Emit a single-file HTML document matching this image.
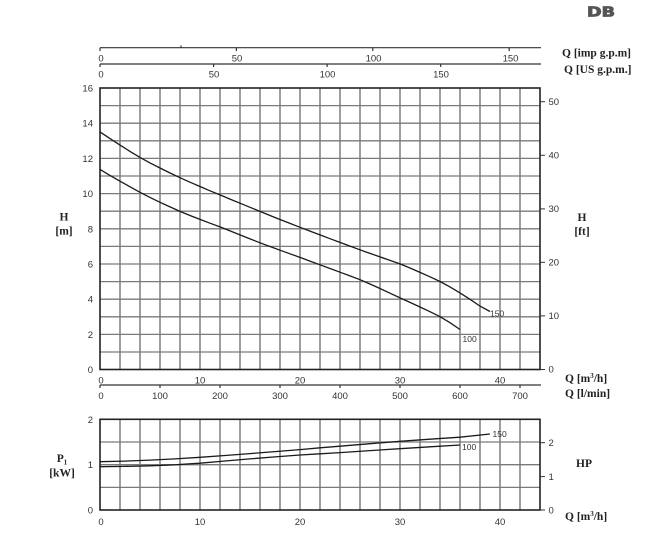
<!DOCTYPE html>
<html>
<head>
<meta charset="utf-8">
<style>
html,body{margin:0;padding:0;background:#fff;}
svg{display:block;}
.t{font-family:"Liberation Sans",Arial,sans-serif;font-size:9.5px;fill:#333;}
.b{font-family:"Liberation Serif","Times New Roman",serif;font-size:11.5px;font-weight:bold;fill:#222;}
.c{font-family:"Liberation Sans",Arial,sans-serif;font-size:8.5px;fill:#333;}
</style>
</head>
<body>
<svg width="650" height="533" viewBox="0 0 650 533" xmlns="http://www.w3.org/2000/svg">
<rect width="650" height="533" fill="#fff"/>

<!-- DB -->
<text x="601" y="16.5" text-anchor="middle" font-family="DejaVu Sans, sans-serif" font-weight="bold" font-size="13" fill="#555" stroke="#555" stroke-width="0.8" transform="translate(601 0) scale(1.35 1) translate(-601 0)">DB</text>

<!-- top axes -->
<g stroke="#333" stroke-width="1.2" fill="none">
  <line x1="100" y1="47.7" x2="541" y2="47.7"/>
  <line x1="100" y1="47.7" x2="100" y2="51"/>
  <line x1="236.4" y1="47.7" x2="236.4" y2="51"/>
  <line x1="372.8" y1="47.7" x2="372.8" y2="51"/>
  <line x1="509.2" y1="47.7" x2="509.2" y2="51"/>
  <line x1="181" y1="47.7" x2="181" y2="45.5"/>
  <line x1="100" y1="64" x2="541" y2="64"/>
  <line x1="100" y1="64" x2="100" y2="67"/>
  <line x1="213.6" y1="64" x2="213.6" y2="67"/>
  <line x1="327.1" y1="64" x2="327.1" y2="67"/>
  <line x1="440.7" y1="64" x2="440.7" y2="67"/>
</g>
<g class="t" text-anchor="middle">
  <text x="101" y="61.5">0</text>
  <text x="237" y="61.5">50</text>
  <text x="373.5" y="61.5">100</text>
  <text x="510.5" y="61.5">150</text>
  <text x="101" y="77.5">0</text>
  <text x="214" y="77.5">50</text>
  <text x="327.5" y="77.5">100</text>
  <text x="441" y="77.5">150</text>
</g>
<text class="b" x="562" y="56.5">Q [imp g.p.m]</text>
<text class="b" x="564" y="73">Q [US g.p.m.]</text>

<!-- main grid -->
<g stroke="#5e5e5e" stroke-width="1.2">
  <line x1="120" y1="88" x2="120" y2="369.5"/>
  <line x1="140" y1="88" x2="140" y2="369.5"/>
  <line x1="160" y1="88" x2="160" y2="369.5"/>
  <line x1="180" y1="88" x2="180" y2="369.5"/>
  <line x1="200" y1="88" x2="200" y2="369.5"/>
  <line x1="220" y1="88" x2="220" y2="369.5"/>
  <line x1="240" y1="88" x2="240" y2="369.5"/>
  <line x1="260" y1="88" x2="260" y2="369.5"/>
  <line x1="280" y1="88" x2="280" y2="369.5"/>
  <line x1="300" y1="88" x2="300" y2="369.5"/>
  <line x1="320" y1="88" x2="320" y2="369.5"/>
  <line x1="340" y1="88" x2="340" y2="369.5"/>
  <line x1="360" y1="88" x2="360" y2="369.5"/>
  <line x1="380" y1="88" x2="380" y2="369.5"/>
  <line x1="400" y1="88" x2="400" y2="369.5"/>
  <line x1="420" y1="88" x2="420" y2="369.5"/>
  <line x1="440" y1="88" x2="440" y2="369.5"/>
  <line x1="460" y1="88" x2="460" y2="369.5"/>
  <line x1="480" y1="88" x2="480" y2="369.5"/>
  <line x1="500" y1="88" x2="500" y2="369.5"/>
  <line x1="520" y1="88" x2="520" y2="369.5"/>
</g>
<g stroke="#7a7a7a" stroke-width="1.3">
  <line x1="100" y1="105.6" x2="540" y2="105.6"/>
  <line x1="100" y1="123.2" x2="540" y2="123.2"/>
  <line x1="100" y1="140.8" x2="540" y2="140.8"/>
  <line x1="100" y1="158.4" x2="540" y2="158.4"/>
  <line x1="100" y1="176.0" x2="540" y2="176.0"/>
  <line x1="100" y1="193.6" x2="540" y2="193.6"/>
  <line x1="100" y1="211.2" x2="540" y2="211.2"/>
  <line x1="100" y1="228.8" x2="540" y2="228.8"/>
  <line x1="100" y1="246.4" x2="540" y2="246.4"/>
  <line x1="100" y1="264.0" x2="540" y2="264.0"/>
  <line x1="100" y1="281.6" x2="540" y2="281.6"/>
  <line x1="100" y1="299.2" x2="540" y2="299.2"/>
  <line x1="100" y1="316.8" x2="540" y2="316.8"/>
  <line x1="100" y1="334.4" x2="540" y2="334.4"/>
  <line x1="100" y1="352.0" x2="540" y2="352.0"/>
</g>
<rect x="100" y="88" width="440" height="281.5" fill="none" stroke="#222" stroke-width="1.6"/>
<!-- right ft ticks -->
<g stroke="#333" stroke-width="1">
  <line x1="540" y1="101.7" x2="545" y2="101.7"/>
  <line x1="540" y1="155.3" x2="545" y2="155.3"/>
  <line x1="540" y1="208.9" x2="545" y2="208.9"/>
  <line x1="540" y1="262.3" x2="545" y2="262.3"/>
  <line x1="540" y1="315.9" x2="545" y2="315.9"/>
  <line x1="540" y1="369.5" x2="545" y2="369.5"/>
</g>
<g class="t">
  <text x="548.5" y="105">50</text>
  <text x="548.5" y="158.5">40</text>
  <text x="548.5" y="212">30</text>
  <text x="548.5" y="265.5">20</text>
  <text x="548.5" y="319">10</text>
  <text x="548.5" y="372.5">0</text>
</g>
<g class="t" text-anchor="end">
  <text x="93" y="91.5">16</text>
  <text x="93" y="126.7">14</text>
  <text x="93" y="161.9">12</text>
  <text x="93" y="197.1">10</text>
  <text x="93" y="232.3">8</text>
  <text x="93" y="267.5">6</text>
  <text x="93" y="302.7">4</text>
  <text x="93" y="337.9">2</text>
  <text x="93" y="373">0</text>
</g>
<text class="b" x="64" y="220.5" text-anchor="middle">H</text>
<text class="b" x="64" y="234.5" text-anchor="middle">[m]</text>
<text class="b" x="582" y="221" text-anchor="middle">H</text>
<text class="b" x="582" y="235" text-anchor="middle">[ft]</text>

<!-- main curves -->
<g fill="none" stroke="#1a1a1a" stroke-width="1.3" stroke-linejoin="round">
  <polyline points="100,131.9 110,138.6 120,145.1 130,151.4 140,157.4 150,162.9 160,168.0 170,173.0 180,177.7 190,182.2 200,186.5 210,190.8 220,194.9 230,199.1 240,203.2 250,207.3 260,211.4 270,215.5 280,219.5 290,223.4 300,227.3 310,231.1 320,234.9 330,238.7 340,242.4 350,246.1 360,249.8 370,253.4 380,256.9 390,260.4 400,263.9 410,268.0 420,272.4 430,276.8 440,281.5 450,286.9 460,292.9 470,299.3 480,306.1 490,311.5"/>
  <polyline points="100,169.4 110,175.4 120,181.2 130,186.8 140,192.3 150,197.4 160,202.3 170,206.9 180,211.4 190,215.5 200,219.4 210,223.2 220,226.9 230,230.9 240,234.9 250,238.9 260,242.8 270,246.5 280,250.2 290,253.8 300,257.4 310,261.1 320,264.8 330,268.5 340,272.2 350,275.9 360,279.7 370,284.0 380,288.5 390,293.2 400,297.9 410,302.4 420,307.0 430,311.7 440,316.7 450,322.7 460,329.5"/>
</g>
<text class="c" x="490" y="316.5">150</text>
<text class="c" x="462.5" y="342">100</text>

<!-- bottom axes main -->
<g class="t" text-anchor="middle">
  <text x="101" y="383.5">0</text>
  <text x="200" y="383.5">10</text>
  <text x="300" y="383.5">20</text>
  <text x="400" y="383.5">30</text>
  <text x="500" y="383.5">40</text>
</g>
<g stroke="#333" stroke-width="1.2">
  <line x1="100" y1="385" x2="541" y2="385"/>
  <line x1="100" y1="385" x2="100" y2="388"/>
  <line x1="160" y1="385" x2="160" y2="388"/>
  <line x1="220" y1="385" x2="220" y2="388"/>
  <line x1="280" y1="385" x2="280" y2="388"/>
  <line x1="340" y1="385" x2="340" y2="388"/>
  <line x1="400" y1="385" x2="400" y2="388"/>
  <line x1="460" y1="385" x2="460" y2="388"/>
  <line x1="520" y1="385" x2="520" y2="388"/>
</g>
<g class="t" text-anchor="middle">
  <text x="101" y="399">0</text>
  <text x="160" y="399">100</text>
  <text x="220" y="399">200</text>
  <text x="280" y="399">300</text>
  <text x="340" y="399">400</text>
  <text x="400" y="399">500</text>
  <text x="460" y="399">600</text>
  <text x="520" y="399">700</text>
</g>
<text class="b" x="565" y="382">Q [m<tspan font-size="7" dy="-4">3</tspan><tspan dy="4">/h]</tspan></text>
<text class="b" x="565" y="397">Q [l/min]</text>

<!-- lower chart -->
<g stroke="#5e5e5e" stroke-width="1.2">
  <line x1="120" y1="419.3" x2="120" y2="510"/>
  <line x1="140" y1="419.3" x2="140" y2="510"/>
  <line x1="160" y1="419.3" x2="160" y2="510"/>
  <line x1="180" y1="419.3" x2="180" y2="510"/>
  <line x1="200" y1="419.3" x2="200" y2="510"/>
  <line x1="220" y1="419.3" x2="220" y2="510"/>
  <line x1="240" y1="419.3" x2="240" y2="510"/>
  <line x1="260" y1="419.3" x2="260" y2="510"/>
  <line x1="280" y1="419.3" x2="280" y2="510"/>
  <line x1="300" y1="419.3" x2="300" y2="510"/>
  <line x1="320" y1="419.3" x2="320" y2="510"/>
  <line x1="340" y1="419.3" x2="340" y2="510"/>
  <line x1="360" y1="419.3" x2="360" y2="510"/>
  <line x1="380" y1="419.3" x2="380" y2="510"/>
  <line x1="400" y1="419.3" x2="400" y2="510"/>
  <line x1="420" y1="419.3" x2="420" y2="510"/>
  <line x1="440" y1="419.3" x2="440" y2="510"/>
  <line x1="460" y1="419.3" x2="460" y2="510"/>
  <line x1="480" y1="419.3" x2="480" y2="510"/>
  <line x1="500" y1="419.3" x2="500" y2="510"/>
  <line x1="520" y1="419.3" x2="520" y2="510"/>
</g>
<g stroke="#7a7a7a" stroke-width="1.3">
  <line x1="100" y1="442" x2="540" y2="442"/>
  <line x1="100" y1="464.7" x2="540" y2="464.7"/>
  <line x1="100" y1="487.4" x2="540" y2="487.4"/>
</g>
<rect x="100" y="419.3" width="440" height="90.7" fill="none" stroke="#222" stroke-width="1.6"/>
<g stroke="#333" stroke-width="1">
  <line x1="540" y1="442.7" x2="545" y2="442.7"/>
  <line x1="540" y1="476.6" x2="545" y2="476.6"/>
  <line x1="540" y1="510" x2="545" y2="510"/>
</g>
<g class="t">
  <text x="548.5" y="446">2</text>
  <text x="548.5" y="480">1</text>
  <text x="548.5" y="513.5">0</text>
</g>
<g class="t" text-anchor="end">
  <text x="93" y="422.8">2</text>
  <text x="93" y="468.2">1</text>
  <text x="93" y="513.5">0</text>
</g>
<g fill="none" stroke="#1a1a1a" stroke-width="1.3" stroke-linejoin="round">
  <polyline points="100,461.7 125,461.1 150,460.1 175,458.9 200,457.3 225,455.5 250,453.6 275,451.6 300,449.6 320,447.8 340,446.2 370,443.7 400,441.3 430,439.2 460,437.2 490,434"/>
  <polyline points="100,466.7 125,466.4 150,465.8 175,464.8 200,463.2 225,461 250,458.9 275,456.9 300,455 320,453.8 340,452.6 370,450.6 400,448.7 430,446.8 460,445"/>
</g>
<text class="c" x="492.5" y="437">150</text>
<text class="c" x="462" y="450">100</text>
<g class="t" text-anchor="middle">
  <text x="101" y="525">0</text>
  <text x="200" y="525">10</text>
  <text x="300" y="525">20</text>
  <text x="400" y="525">30</text>
  <text x="500" y="525">40</text>
</g>
<text class="b" x="62" y="462" text-anchor="middle">P<tspan font-size="7" dy="2.5">1</tspan></text>
<text class="b" x="62" y="476.5" text-anchor="middle">[kW]</text>
<text class="b" x="584" y="467" text-anchor="middle">HP</text>
<text class="b" x="565" y="520">Q [m<tspan font-size="7" dy="-4">3</tspan><tspan dy="4">/h]</tspan></text>
</svg>
</body>
</html>
